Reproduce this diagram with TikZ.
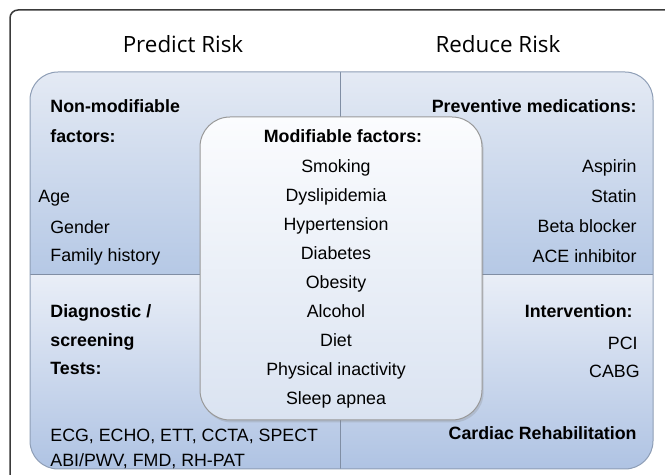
\documentclass[tikz,border=0pt]{standalone}
\usepackage{fontspec}
\setmainfont{Liberation Sans}
\newfontfamily\titlefont{Open Sans}
\usetikzlibrary{positioning}
\usetikzlibrary{shadows}
\definecolor{frameGray}{HTML}{3A3A3A}
\definecolor{upperTop}{HTML}{E4EAF4}
\definecolor{upperBot}{HTML}{B5C8E5}
\definecolor{lowerTop}{HTML}{E9EEF7}
\definecolor{lowerBot}{HTML}{AFC3E3}
\definecolor{innerTop}{HTML}{FBFCFE}
\definecolor{innerBot}{HTML}{DAE3F1}
\definecolor{edgeGray}{HTML}{8E9EB6}
\tikzset{RiskStyle/.style={
    x=0.5pt,% one unit = one pixel of the reference
    y=-0.5pt,% y grows downwards
    node distance=14.5pt,% spacing of the list
    on grid,% arrange nodes on a grid
    item/.style={% one line of text
      font=\fontsize{8.9}{10}\selectfont,
      inner sep=0pt,
      text height=6.5pt,
      text depth=1.9pt
    },
    head/.style={item,font=\fontsize{8.9}{10}\selectfont\bfseries},
    title/.style={font=\fontsize{11.2}{13}\selectfont\titlefont,inner sep=0pt},
    boxline/.style={draw=edgeGray,line width=0.5pt},
    divider/.style={draw=edgeGray!90!black,line width=0.5pt}
  }
}
\begin{document}
\begin{tikzpicture}[RiskStyle]
  \useasboundingbox (0,0) rectangle (665,475);
  \clip (0,0) rectangle (665,475);
  % outer frame
  \draw[frameGray,line width=0.75pt,rounded corners=4pt] (10,520) |- (700,10);
  \node[title,anchor=base] (predict) at (183,53) {Predict Risk};
  \node[title,anchor=base] (reduce) at (498,53) {Reduce Risk};
  % four quadrants
  \begin{scope}
    \clip[rounded corners=14pt] (30,72) rectangle (653,469);
    \shade[top color=upperTop,bottom color=upperBot] (30,72) rectangle (653,275);
    \shade[top color=lowerTop,bottom color=lowerBot] (30,275) rectangle (653,469);
    \draw[divider] (340,72) -- (340,469);
    \draw[divider] (30,275) -- (653,275);
  \end{scope}
  \draw[boxline,rounded corners=14pt] (30,72) rectangle (653,469);
  % middle box
  \shade[top color=innerTop,bottom color=innerBot,draw=gray!80,line width=0.5pt,
    rounded corners=15pt,
    drop shadow={shadow xshift=0.8pt,shadow yshift=-1.2pt,opacity=0.25}]
    (200,117) rectangle (482,420);
  % predict, top
  \node[head,anchor=base west] (nonmod) at (50,113) {Non-modifiable};
  \node[head,anchor=base west] (nonmod2) at (50,143) {factors:};
  \node[item,anchor=base west] (age) at (38,203) {Age};
  \node[item,anchor=base west] (gender) at (50,234) {Gender};
  \node[item,anchor=base west] (family) at (50,262) {Family history};
  % predict, bottom
  \node[head,anchor=base west] (diag) at (50,318) {Diagnostic /};
  \node[head,anchor=base west] (diag2) at (50,347) {screening};
  \node[head,anchor=base west] (diag3) at (50,375) {Tests:};
  \node[item,anchor=base west] (tests) at (50,442) {ECG, ECHO, ETT, CCTA, SPECT};
  \node[item,anchor=base west] (tests2) at (50,467) {ABI/PWV, FMD, RH-PAT};
  % modifiable factors
  \node[head,anchor=base] (modif) at (343,143) {Modifiable factors:};
  \node[item] (smoking) at (336,168.4) {Smoking};
  \node[item,below=of smoking] (dyslip) {Dyslipidemia};
  \node[item,below=of dyslip] (hypert) {Hypertension};
  \node[item,below=of hypert] (diabetes) {Diabetes};
  \node[item,below=of diabetes] (obesity) {Obesity};
  \node[item,below=of obesity] (alcohol) {Alcohol};
  \node[item,below=of alcohol] (diet) {Diet};
  \node[item,below=of diet] (inactive) {Physical inactivity};
  \node[item,below=of inactive] (apnea) {Sleep apnea};
  % reduce, top
  \node[head,anchor=base east] (prevent) at (637,113) {Preventive medications:};
  \node[item,anchor=base east] (aspirin) at (637,173) {Aspirin};
  \node[item,anchor=base east] (statin) at (637,203) {Statin};
  \node[item,anchor=base east] (beta) at (637,233) {Beta blocker};
  \node[item,anchor=base east] (ace) at (637,263) {ACE inhibitor};
  % reduce, bottom
  \node[head,anchor=base east] (interv) at (633,318) {Intervention:};
  \node[item,anchor=base east] (pci) at (638,350) {PCI};
  \node[item,anchor=base east] (cabg) at (640,378) {CABG};
  \node[head,anchor=base east] (rehab) at (637,440) {Cardiac Rehabilitation};
\end{tikzpicture}
\end{document}
